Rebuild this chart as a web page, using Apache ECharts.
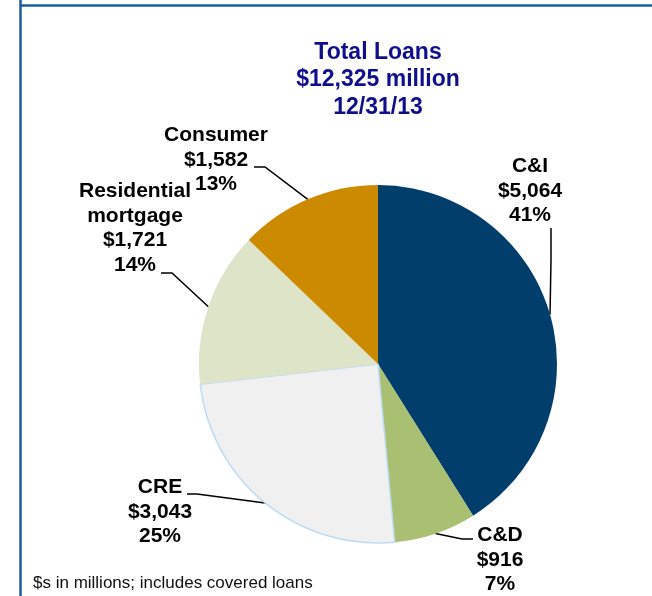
<!DOCTYPE html>
<html>
<head>
<meta charset="utf-8">
<script src="https://cdn.jsdelivr.net/npm/echarts@6/dist/echarts.min.js"></script>
<style>
  html, body { margin: 0; padding: 0; background: #ffffff; }
  #chart { width: 652px; height: 596px; }
</style>
</head>
<body>
<div id="chart"></div>
<script>
// Loan portfolio mix, $ millions
const categories = ['C&I', 'C&D', 'CRE', 'Residential\nmortgage', 'Consumer'];
const values = [5064, 916, 3043, 1721, 1582];
const sliceColors = ['#023e6c', '#a9bf72', '#f0f0f0', '#dde4c7', '#cc8a00'];
const titleLines = ['Total Loans', '$12,325 million', '12/31/13'];
const footnote = '$s in millions; includes covered loans';

// Label block centres and leader-line bends/ends for each slice
const labelSpots = [
  { x: 530, y: 191, bend: [551, 260], end: [551, 228] },
  { x: 500, y: 560, bend: [462, 539], end: [473, 539] },
  { x: 160, y: 512, bend: [197, 494], end: [187, 494] },
  { x: 135, y: 228, bend: [172, 273], end: [161, 273] },
  { x: 216, y: 160, bend: [265, 167], end: [254, 167] }
];

const FONT = '"Liberation Sans", Arial, sans-serif';
const chart = echarts.init(document.getElementById('chart'), null, { renderer: 'canvas' });

const fmtMoney = v => '$' + v.toLocaleString('en-US');

chart.setOption({
  animation: false,
  backgroundColor: '#ffffff',
  graphic: [
    { type: 'line', shape: { x1: 20, y1: 5.5, x2: 652, y2: 5.5 }, style: { stroke: '#1b5ca0', lineWidth: 2.5 } },
    { type: 'line', shape: { x1: 20.5, y1: 0, x2: 20.5, y2: 596 }, style: { stroke: '#1b5ca0', lineWidth: 2.5 } },
    {
      type: 'text', x: 378, y: 80,
      style: {
        text: titleLines.join('\n'), align: 'center', verticalAlign: 'middle',
        fill: '#0f0f8e', font: 'bold 23px ' + FONT, lineHeight: 27.5
      }
    },
    {
      type: 'text', x: 33, y: 583,
      style: {
        text: footnote, align: 'left', verticalAlign: 'middle',
        fill: '#111111', font: '17px ' + FONT
      }
    }
  ],
  series: [{
    type: 'pie',
    center: [378, 364],
    radius: 179,
    startAngle: 90,
    clockwise: true,
    avoidLabelOverlap: false,
    emphasis: { disabled: true },
    data: categories.map((name, i) => ({
      name: name,
      value: values[i],
      itemStyle: i === 2
        ? { color: sliceColors[i], borderColor: '#bcdcf6', borderWidth: 1.5 }
        : { color: sliceColors[i], borderWidth: 0 }
    })),
    label: {
      show: true,
      position: 'outside',
      color: '#000000',
      fontFamily: FONT,
      fontWeight: 'bold',
      fontSize: 21,
      lineHeight: 24.5,
      align: 'center',
      formatter: p => p.name + '\n' + fmtMoney(p.value) + '\n' + Math.round(p.percent) + '%'
    },
    labelLine: {
      show: true,
      smooth: false,
      length: 10,
      length2: 10,
      lineStyle: { color: '#000000', width: 1.5 }
    },
    labelLayout: function (params) {
      const s = labelSpots[params.dataIndex];
      const start = params.labelLinePoints ? params.labelLinePoints[0] : s.bend;
      return {
        x: s.x,
        y: s.y,
        align: 'center',
        verticalAlign: 'middle',
        labelLinePoints: [start, s.bend, s.end]
      };
    }
  }]
});
</script>
</body>
</html>
